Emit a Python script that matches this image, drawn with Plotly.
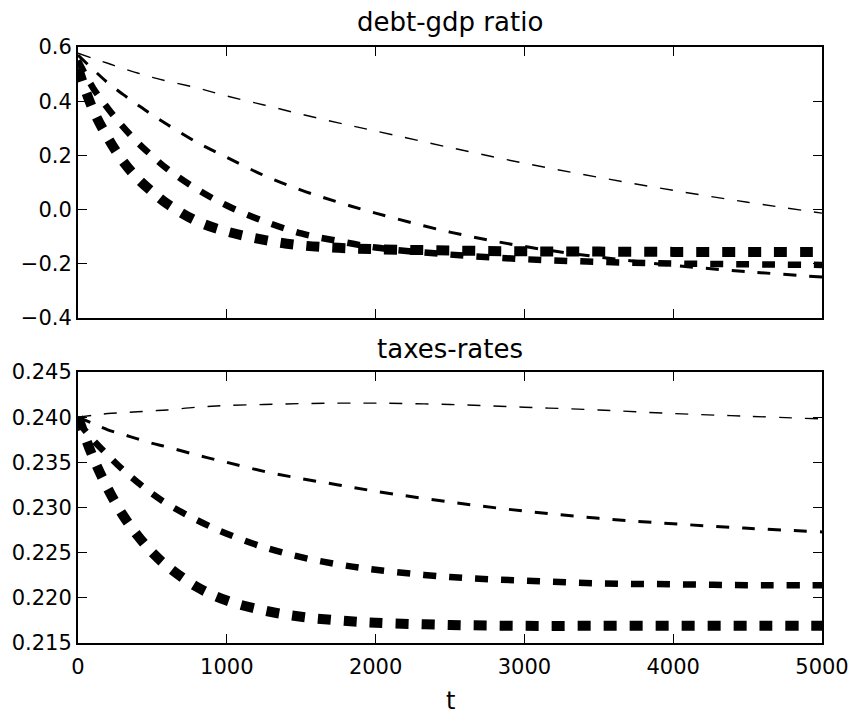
import plotly.graph_objects as go

t = [0, 100, 200, 300, 400, 500, 600, 800, 1000, 1250, 1500, 1750, 2000,
     2500, 3000, 3500, 4000, 4500, 5000]

debt_1 = [0.577, 0.558, 0.540, 0.521, 0.504, 0.488, 0.474, 0.449, 0.419, 0.386,
          0.352, 0.320, 0.290, 0.229, 0.171, 0.119, 0.071, 0.027, -0.013]
debt_2 = [0.570, 0.518, 0.468, 0.426, 0.387, 0.349, 0.314, 0.248, 0.193, 0.126,
          0.072, 0.027, -0.013, -0.083, -0.136, -0.175, -0.206, -0.229, -0.249]
debt_3 = [0.550, 0.450, 0.374, 0.307, 0.248, 0.197, 0.150, 0.075, 0.015, -0.043,
          -0.088, -0.116, -0.140, -0.166, -0.183, -0.193, -0.199, -0.202, -0.204]
debt_4 = [0.520, 0.370, 0.265, 0.180, 0.115, 0.065, 0.021, -0.043, -0.081, -0.112,
          -0.132, -0.141, -0.146, -0.151, -0.154, -0.155, -0.156, -0.156, -0.156]

tax_1 = [0.2400, 0.2402, 0.2404, 0.2405, 0.2406, 0.2407, 0.2408, 0.2411, 0.2413,
         0.2414, 0.2415, 0.24155, 0.24155, 0.2414, 0.2411, 0.2408, 0.2404, 0.2401, 0.2398]
tax_2 = [0.2400, 0.2393, 0.2386, 0.2381, 0.2376, 0.2371, 0.2367, 0.2358, 0.2350,
         0.2340, 0.2332, 0.2325, 0.2318, 0.2306, 0.2296, 0.2288, 0.2282, 0.2277, 0.2273]
tax_3 = [0.2395, 0.2375, 0.2358, 0.2342, 0.2328, 0.2315, 0.2304, 0.2286, 0.2271,
         0.2256, 0.2245, 0.2237, 0.2231, 0.2223, 0.2219, 0.2216, 0.2215, 0.2214, 0.2214]
tax_4 = [0.2400, 0.2356, 0.2321, 0.2292, 0.2269, 0.2250, 0.2235, 0.2212, 0.2197,
         0.2186, 0.2179, 0.2175, 0.21725, 0.2170, 0.2169, 0.2169, 0.2169, 0.2169, 0.2169]

x_ticks = [0, 1000, 2000, 3000, 4000, 5000]
x_labels = ["0", "1000", "2000", "3000", "4000", "5000"]
debt_ticks = [-0.4, -0.2, 0.0, 0.2, 0.4, 0.6]
debt_labels = ["\u22120.4", "\u22120.2", "0.0", "0.2", "0.4", "0.6"]
tax_ticks = [0.215, 0.220, 0.225, 0.230, 0.235, 0.240, 0.245]
tax_labels = ["0.215", "0.220", "0.225", "0.230", "0.235", "0.240", "0.245"]

titles = ["debt-gdp ratio", "taxes-rates"]
x_title = "t"

widths = [1.4, 3.0, 6.5, 10]
dash = "13px,13px"

fig = go.Figure()

for ys, w in zip([debt_1, debt_2, debt_3, debt_4], widths):
    fig.add_trace(go.Scatter(x=t, y=ys, mode="lines", line_shape="spline",
                             line=dict(color="black", width=w, dash=dash),
                             xaxis="x", yaxis="y", showlegend=False))
for ys, w in zip([tax_1, tax_2, tax_3, tax_4], widths):
    fig.add_trace(go.Scatter(x=t, y=ys, mode="lines", line_shape="spline",
                             line=dict(color="black", width=w, dash=dash),
                             xaxis="x2", yaxis="y2", showlegend=False))

W, H = 851, 715
ML, MR, MT, MB = 78, W - 822, 47, H - 643
PH = H - MT - MB
top_dom = [1 - (318 - MT) / PH, 1]
bot_dom = [0, 1 - (372 - MT) / PH]

axis_common = dict(showline=True, linewidth=2, linecolor="black", mirror="allticks",
                   ticks="inside", ticklen=9, tickwidth=1, tickcolor="black",
                   showgrid=False, zeroline=False, automargin=False,
                   tickfont=dict(family="DejaVu Sans", size=21, color="black"))

fig.update_layout(
    width=W, height=H,
    margin=dict(l=ML, r=MR, t=MT, b=MB, pad=0, autoexpand=False),
    paper_bgcolor="white", plot_bgcolor="white",
    font=dict(family="DejaVu Sans", color="black"),
    xaxis=dict(domain=[0, 1], range=[0, 5000], tickvals=x_ticks, ticktext=x_labels,
               showticklabels=False, anchor="y", **axis_common),
    yaxis=dict(domain=top_dom, range=[-0.4, 0.6], tickvals=debt_ticks,
               ticktext=debt_labels, anchor="x", **axis_common),
    xaxis2=dict(domain=[0, 1], range=[0, 5000], tickvals=x_ticks, ticktext=x_labels,
                anchor="y2", ticklabelstandoff=4, **axis_common),
    yaxis2=dict(domain=bot_dom, range=[0.215, 0.245], tickvals=tax_ticks,
                ticktext=tax_labels, anchor="x2", **axis_common),
)

cx = (450 - ML) / (W - ML - MR)
def py(p):
    return (H - MB - p) / PH

title_font = dict(family="DejaVu Sans", size=26, color="black")
fig.add_annotation(text=titles[0], x=cx, y=py(22), xref="paper", yref="paper",
                   showarrow=False, xanchor="center", yanchor="middle", font=title_font)
fig.add_annotation(text=titles[1], x=cx, y=py(349), xref="paper", yref="paper",
                   showarrow=False, xanchor="center", yanchor="middle", font=title_font)
fig.add_annotation(text=x_title, x=cx, y=py(716), xref="paper", yref="paper",
                   showarrow=False, xanchor="center", yanchor="bottom", borderpad=0,
                   font=dict(family="DejaVu Sans", size=24, color="black"))

fig.write_html("out.html",
               config={"displayModeBar": False},
               post_script="document.body.style.margin='0px';"
                           "document.body.style.overflow='hidden';")
